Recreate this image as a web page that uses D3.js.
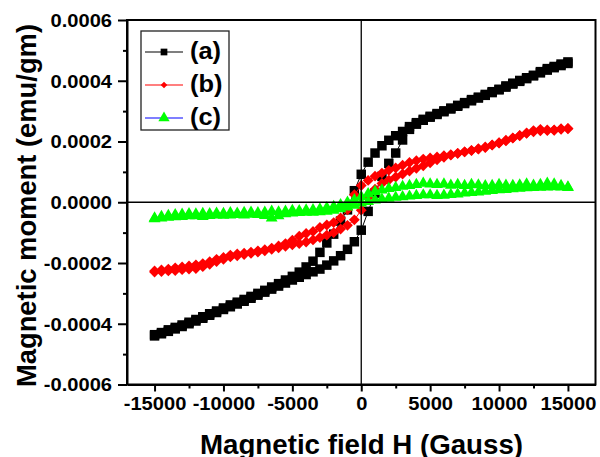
<!DOCTYPE html>
<html>
<head>
<meta charset="utf-8">
<script src="https://cdn.jsdelivr.net/npm/d3@7/dist/d3.min.js"></script>
<style>
  body { margin: 0; background: #fff; }
  svg { display: block; font-family: "Liberation Sans", Arial, sans-serif; font-weight: bold; }
</style>
</head>
<body>
<svg width="600" height="457"></svg>
<script>
// field sweep, Gauss (descending 15000 -> -15000, then back up)
var fieldDown = [
   15000,  14500,  14000,  13500,  13000,  12500,  12000,  11500,  11000,  10500,
   10000,   9500,   9000,   8500,   8000,   7500,   7000,   6500,   6000,   5500,
    5000,   4500,   4000,   3500,   3000,   2500,   2000,   1500,   1000,    500,
       0,   -500,  -1000,  -1500,  -2000,  -2500,  -3000,  -3500,  -4000,  -4500,
   -5000,  -5500,  -6000,  -6500,  -7000,  -7500,  -8000,  -8500,  -9000,  -9500,
  -10000, -10500, -11000, -11500, -12000, -12500, -13000, -13500, -14000, -14500,
  -15000
];
var fieldUp = fieldDown.slice().reverse();

// magnetic moment, in units of 1e-4 emu/gm
var aDown = [
   4.62,  4.55,  4.47,  4.40,  4.30,  4.18,  4.10,  4.01,  3.92,  3.83,
   3.72,  3.64,  3.55,  3.46,  3.38,  3.28,  3.19,  3.10,  3.01,  2.92,
   2.83,  2.73,  2.62,  2.49,  2.33,  2.19,  2.04,  1.86,  1.62,  1.32,
   0.92,  0.38, -0.25, -0.62, -1.05, -1.34, -1.65, -1.94, -2.13, -2.30,
  -2.44, -2.56, -2.68, -2.79, -2.90, -3.00, -3.10, -3.20, -3.29, -3.38,
  -3.48, -3.58, -3.67, -3.77, -3.86, -3.95, -4.04, -4.12, -4.20, -4.29,
  -4.36
];
var aUp = [
  -4.40, -4.33, -4.25, -4.17, -4.09, -4.00, -3.91, -3.82, -3.72, -3.63,
  -3.53, -3.44, -3.35, -3.26, -3.16, -3.06, -2.96, -2.86, -2.76, -2.66,
  -2.56, -2.47, -2.38, -2.29, -2.20, -2.07, -1.93, -1.76, -1.55, -1.30,
  -0.92, -0.30,  0.30,  0.85,  1.28,  1.62,  2.05,  2.40,  2.57,  2.70,
   2.80,  2.89,  2.98,  3.07,  3.16,  3.25,  3.34,  3.43,  3.52,  3.61,
   3.70,  3.79,  3.89,  3.98,  4.07,  4.16,  4.26,  4.35,  4.43,  4.50,
   4.57
];
var bDown = [
   2.43,  2.42,  2.38,  2.38,  2.40,  2.36,  2.28,  2.19,  2.11,  2.02,
   1.95,  1.88,  1.80,  1.75,  1.70,  1.66,  1.61,  1.57,  1.53,  1.49,
   1.46,  1.42,  1.37,  1.31,  1.22,  1.13,  1.05,  0.96,  0.86,  0.72,
   0.55,  0.25, -0.25, -0.52, -0.67, -0.75, -0.83, -0.96, -1.03, -1.12,
  -1.25, -1.36, -1.44, -1.51, -1.56, -1.60, -1.64, -1.68, -1.70, -1.74,
  -1.82, -1.88, -1.96, -2.02, -2.06, -2.10, -2.13, -2.16, -2.20, -2.23,
  -2.26
];
var bUp = [
  -2.30, -2.28, -2.26, -2.25, -2.22, -2.20, -2.18, -2.12, -2.04, -1.95,
  -1.88, -1.80, -1.76, -1.72, -1.68, -1.64, -1.60, -1.55, -1.50, -1.45,
  -1.40, -1.36, -1.31, -1.24, -1.16, -1.08, -1.00, -0.88, -0.76, -0.58,
  -0.26,  0.15,  0.43,  0.62,  0.73,  0.83,  0.93,  1.03,  1.12,  1.20,
   1.30,  1.40,  1.48,  1.55,  1.61,  1.66,  1.71,  1.76,  1.82,  1.89,
   1.96,  2.04,  2.12,  2.20,  2.27,  2.32,  2.35,  2.36,  2.37,  2.40,
   2.42
];
var cDown = [
   0.50,  0.55,  0.60,  0.62,  0.58,  0.56,  0.60,  0.57,  0.55,  0.56,
   0.58,  0.55,  0.54,  0.57,  0.58,  0.55,  0.58,  0.56,  0.60,  0.58,
   0.60,  0.62,  0.58,  0.55,  0.52,  0.48,  0.45,  0.40,  0.35,  0.28,
   0.18,  0.08,  0.00, -0.08, -0.14, -0.18, -0.22, -0.25, -0.26, -0.28,
  -0.27, -0.30, -0.32, -0.30, -0.33, -0.35, -0.33, -0.34, -0.36, -0.35,
  -0.37, -0.36, -0.38, -0.37, -0.39, -0.38, -0.40, -0.41, -0.44, -0.47,
  -0.52
];
var cUp = [
  -0.55, -0.52, -0.50, -0.48, -0.47, -0.45, -0.45, -0.47, -0.44, -0.42,
  -0.43, -0.42, -0.41, -0.42, -0.40, -0.41, -0.44, -0.52, -0.45, -0.38,
  -0.36, -0.34, -0.33, -0.33, -0.32, -0.30, -0.27, -0.22, -0.16, -0.10,
  -0.03,  0.02,  0.07,  0.10,  0.13,  0.16,  0.18,  0.20,  0.22,  0.24,
   0.24,  0.22,  0.23,  0.25,  0.27,  0.30,  0.32,  0.33,  0.36,  0.38,
   0.41,  0.42,  0.44,  0.46,  0.47,  0.48,  0.49,  0.50,  0.51,  0.50,
   0.48
];

var seriesNames = ["(a)", "(b)", "(c)"];
var xTicks = [-15000, -10000, -5000, 0, 5000, 10000, 15000];
var xMinorTicks = [-12500, -7500, -2500, 2500, 7500, 12500];
var yTicks = [-0.0006, -0.0004, -0.0002, 0, 0.0002, 0.0004, 0.0006];
var yMinorTicks = [-0.0005, -0.0003, -0.0001, 0.0001, 0.0003, 0.0005];

var svg = d3.select("svg");
var pLeft = 127, pRight = 595.5, pTop = 20, pBottom = 384.5;
var sx = 1.15; // tick labels in the picture are a bit wide

var x = d3.scaleLinear().domain([-17000, 17000]).range([pLeft, pRight]);
var y = d3.scaleLinear().domain([-0.0006, 0.0006]).range([pBottom, pTop]);

function pts(down, up) {
  var out = [];
  fieldDown.forEach(function(h, i) { out.push({h: h, m: down[i] * 1e-4}); });
  fieldUp.forEach(function(h, i) { out.push({h: h, m: up[i] * 1e-4}); });
  return out;
}

var series = [
  {name: seriesNames[0], data: pts(aDown, aUp), line: "#000", fill: "#000", sym: d3.symbolSquare, size: 90, lsize: 45},
  {name: seriesNames[1], data: pts(bDown, bUp), line: "#ff0000", fill: "#ff0000", sym: d3.symbolDiamond2, size: 75, lsize: 28},
  {name: seriesNames[2], data: pts(cDown, cUp), line: "#0000ff", fill: "#00ff00", sym: d3.symbolTriangle, size: 60, lsize: 55}
];

// frame
svg.append("rect")
  .attr("x", pLeft).attr("y", pTop)
  .attr("width", pRight - pLeft).attr("height", pBottom - pTop)
  .attr("fill", "none").attr("stroke", "#000").attr("stroke-width", 2);

// minor ticks
svg.append("g").attr("transform", "translate(0," + pBottom + ")")
  .call(d3.axisBottom(x).tickValues(xMinorTicks).tickSize(4).tickSizeOuter(0).tickFormat(""))
  .call(function(g) { g.select(".domain").remove(); g.selectAll("line").attr("stroke-width", 2); });
svg.append("g").attr("transform", "translate(" + pLeft + ",0)")
  .call(d3.axisLeft(y).tickValues(yMinorTicks).tickSize(4).tickSizeOuter(0).tickFormat(""))
  .call(function(g) { g.select(".domain").remove(); g.selectAll("line").attr("stroke-width", 2); });

// major ticks + labels
var xAxis = svg.append("g").attr("transform", "translate(0," + pBottom + ")")
  .call(d3.axisBottom(x).tickValues(xTicks).tickSize(7).tickSizeOuter(0)
    .tickFormat(function(d) { return String(d); }));
xAxis.select(".domain").attr("stroke-width", 2);
xAxis.selectAll("line").attr("stroke-width", 2);
xAxis.selectAll("text")
  .attr("y", 25.5).attr("dy", 0)
  .attr("transform", "scale(" + sx + ",1)")
  .attr("font-size", 17.5).attr("fill", "#000");

var yAxis = svg.append("g").attr("transform", "translate(" + pLeft + ",0)")
  .call(d3.axisLeft(y).tickValues(yTicks).tickSize(9).tickSizeOuter(0)
    .tickFormat(function(d) { return d.toFixed(4); }));
yAxis.select(".domain").attr("stroke-width", 2);
yAxis.selectAll("line").attr("stroke-width", 2);
yAxis.selectAll("text")
  .attr("x", -15 / sx).attr("dy", "0.36em")
  .attr("transform", "scale(" + sx + ",1)")
  .attr("font-size", 17.5).attr("fill", "#000");
svg.selectAll(".tick text")
  .attr("font-family", "Liberation Sans, Arial, sans-serif")
  .attr("font-weight", "bold");

// data
var line = d3.line()
  .x(function(d) { return x(d.h); })
  .y(function(d) { return y(d.m); });

series.forEach(function(s) {
  var g = svg.append("g");
  g.append("path")
    .attr("d", line(s.data))
    .attr("fill", "none")
    .attr("stroke", s.line)
    .attr("stroke-width", 1);
  g.selectAll("path.pt")
    .data(s.data)
    .enter().append("path")
      .attr("class", "pt")
      .attr("transform", function(d) { return "translate(" + x(d.h) + "," + y(d.m) + ")"; })
      .attr("d", d3.symbol().type(s.sym).size(s.size))
      .attr("fill", s.fill);
});

// zero lines
svg.append("line")
  .attr("x1", x(0)).attr("x2", x(0)).attr("y1", pTop).attr("y2", pBottom)
  .attr("stroke", "#000").attr("stroke-width", 1.3);
svg.append("line")
  .attr("x1", pLeft).attr("x2", pRight).attr("y1", y(0)).attr("y2", y(0))
  .attr("stroke", "#000").attr("stroke-width", 1.3);

// legend
var legend = svg.append("g");
legend.append("rect")
  .attr("x", 141).attr("y", 31).attr("width", 88).attr("height", 99)
  .attr("fill", "#fff").attr("stroke", "#222").attr("stroke-width", 1.3);

series.forEach(function(s, i) {
  var ly = 52 + i * 33;
  legend.append("line")
    .attr("x1", 145).attr("x2", 183).attr("y1", ly).attr("y2", ly)
    .attr("stroke", s.line).attr("stroke-width", 1.2);
  legend.append("path")
    .attr("transform", "translate(164," + ly + ")")
    .attr("d", d3.symbol().type(s.sym).size(s.lsize))
    .attr("fill", s.fill);
  legend.append("text")
    .attr("transform", "translate(190," + (ly + 6.5) + ") scale(1.06,1)")
    .attr("font-size", 24)
    .text(s.name);
});

// axis titles
svg.append("text")
  .attr("x", 200).attr("y", 453.5)
  .attr("font-size", 28)
  .attr("textLength", 323)
  .attr("lengthAdjust", "spacingAndGlyphs")
  .text("Magnetic field H (Gauss)");

svg.append("text")
  .attr("transform", "translate(36,387) rotate(-90)")
  .attr("font-size", 28)
  .attr("textLength", 363)
  .attr("lengthAdjust", "spacingAndGlyphs")
  .text("Magnetic moment (emu/gm)");
</script>
</body>
</html>
